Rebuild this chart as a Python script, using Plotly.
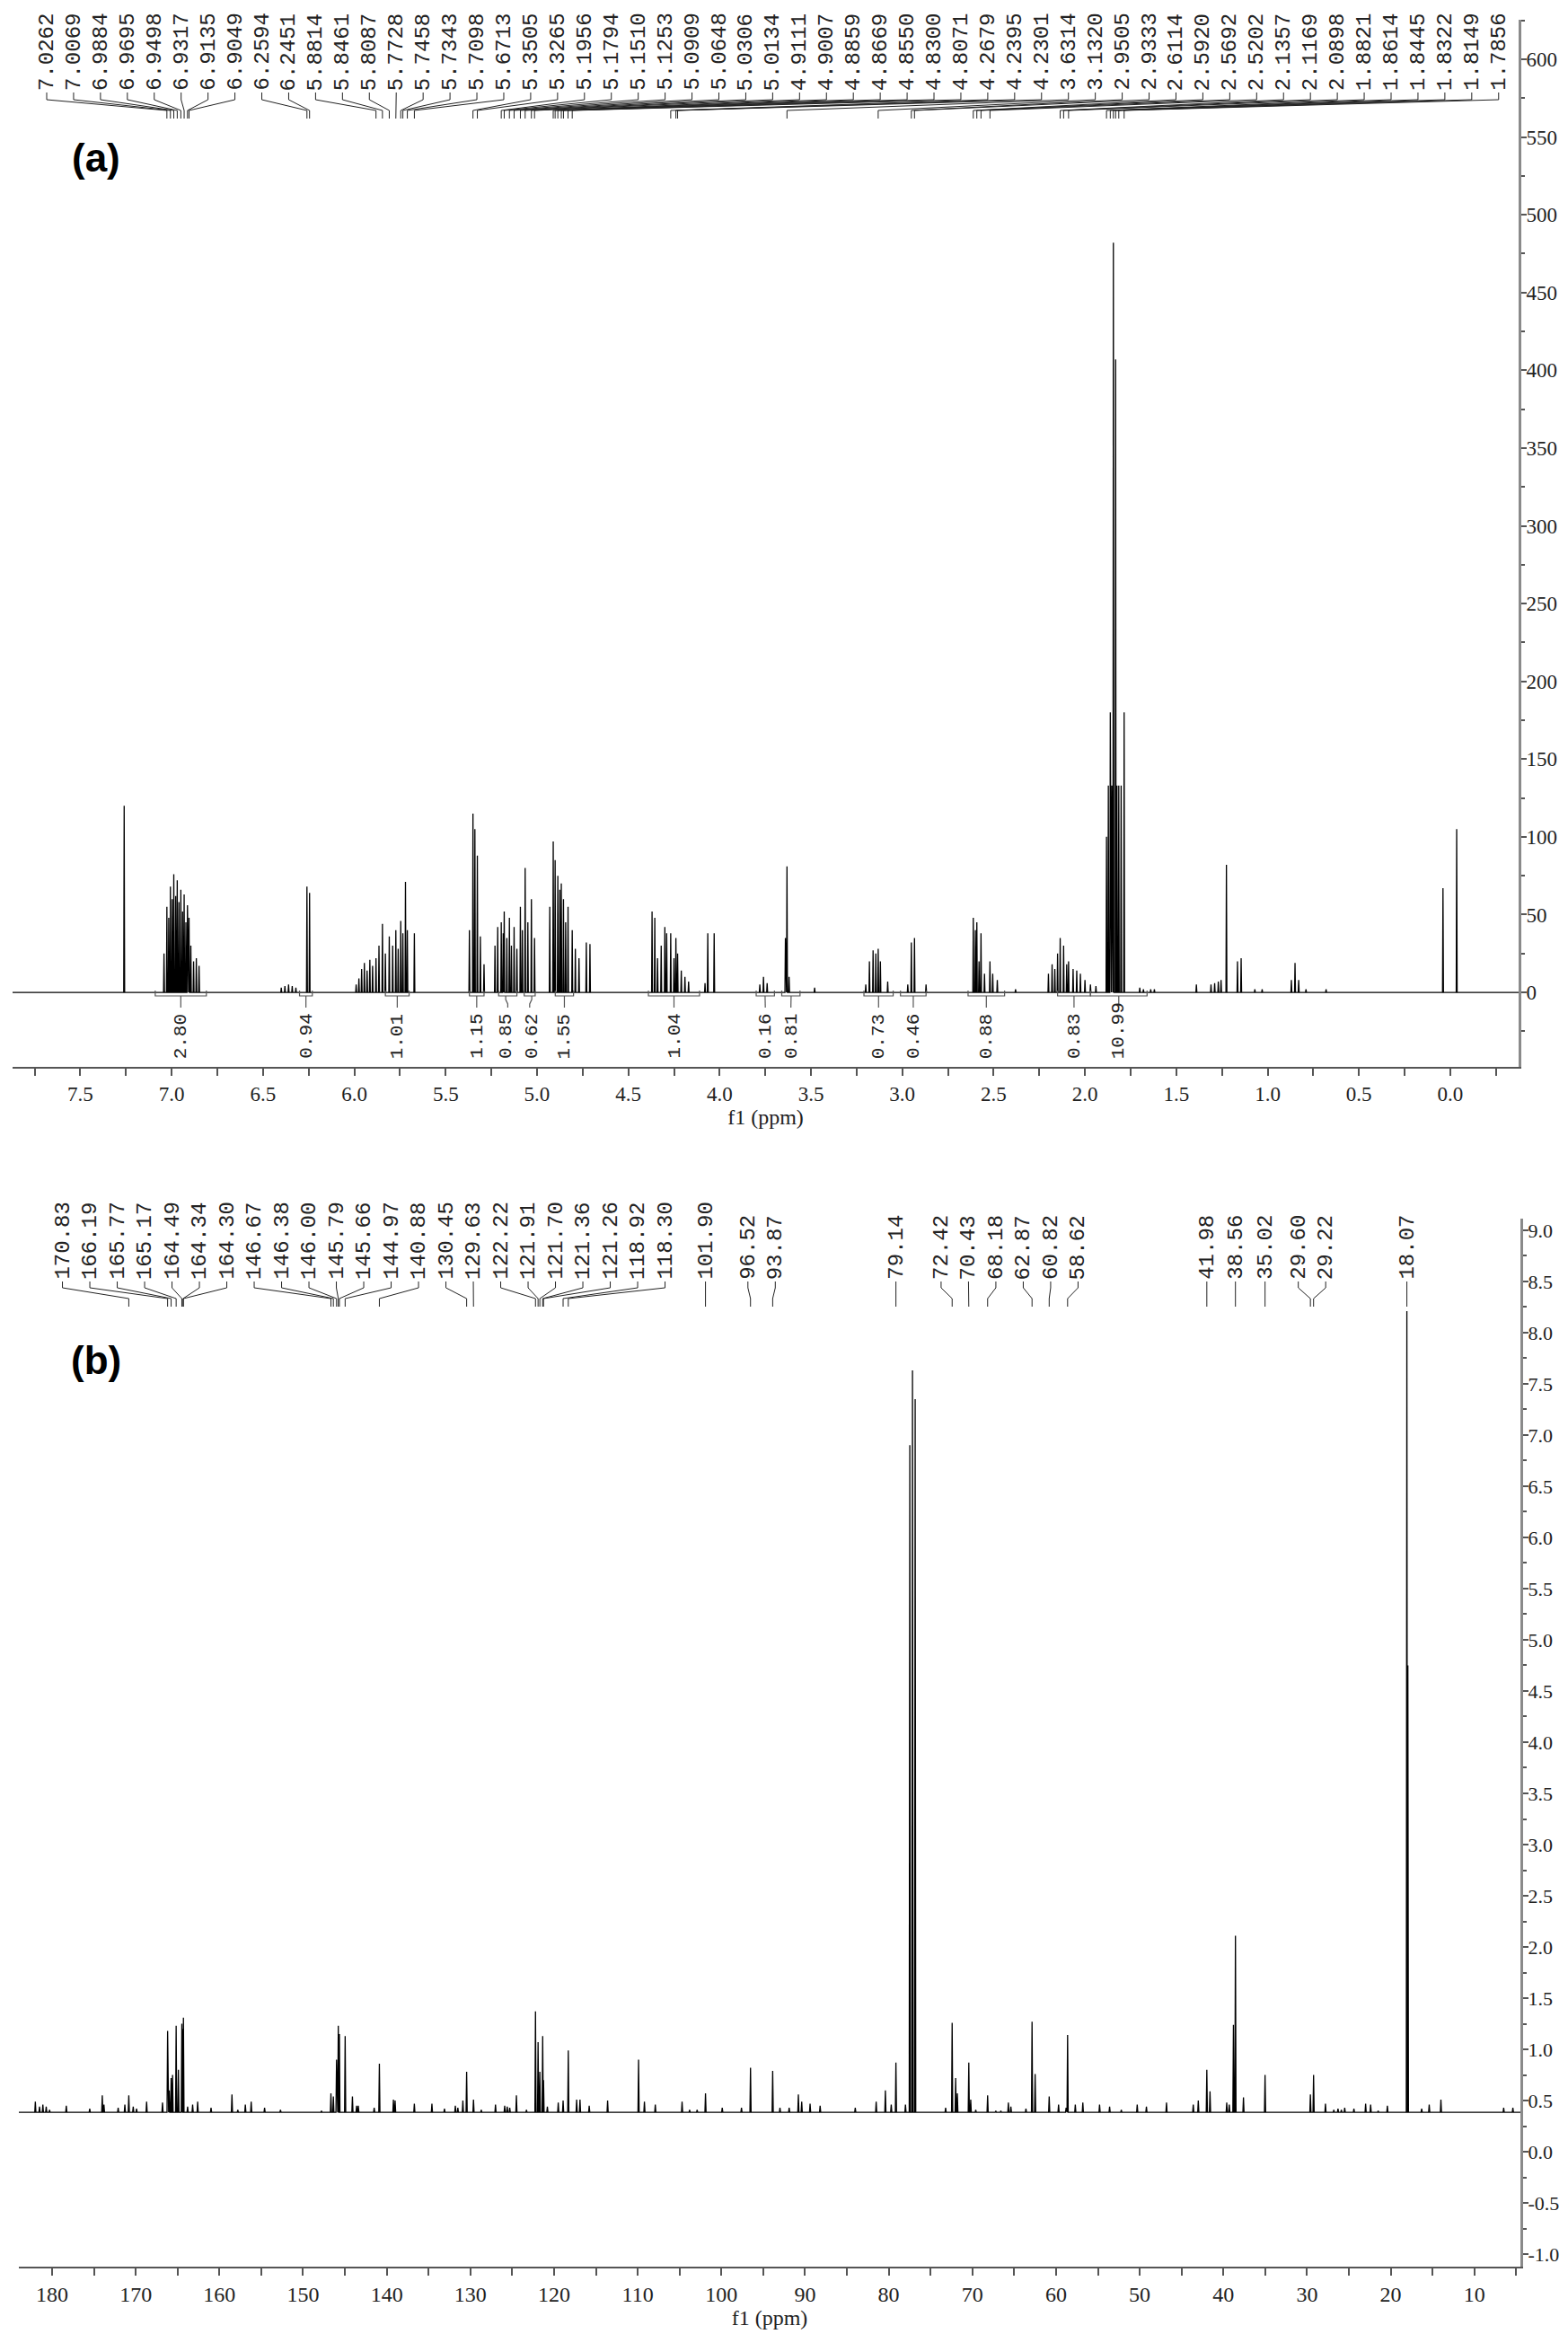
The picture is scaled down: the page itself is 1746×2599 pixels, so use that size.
import numpy as np
import plotly.graph_objects as go

# ---------------- (a) 1H NMR ----------------
h_shift = [7.2600, 7.0420, 7.0262, 7.0160, 7.0069, 6.9970, 6.9884, 6.9780, 6.9695, 6.9600,
           6.9498, 6.9400, 6.9317, 6.9220, 6.9135, 6.9049, 6.8950, 6.8800, 6.8650, 6.8500,
           6.4000, 6.3800, 6.3600, 6.3400, 6.3200, 6.2594, 6.2451,
           5.9900, 5.9750, 5.9600, 5.9450, 5.9300, 5.9150, 5.9000, 5.8814, 5.8650, 5.8461,
           5.8300, 5.8087, 5.7900, 5.7728, 5.7600, 5.7458, 5.7343, 5.7200, 5.7098, 5.6713,
           5.3700, 5.3505, 5.3400, 5.3265, 5.3100, 5.2900,
           5.2300, 5.2150, 5.1956, 5.1850, 5.1794, 5.1650, 5.1510, 5.1400, 5.1253, 5.1100,
           5.0909, 5.0800, 5.0648, 5.0500, 5.0306, 5.0134,
           4.9300, 4.9111, 4.9007, 4.8859, 4.8750, 4.8669, 4.8550, 4.8430, 4.8300, 4.8071,
           4.7900, 4.7700, 4.7300, 4.7100,
           4.3700, 4.3550, 4.3400, 4.3200, 4.3000, 4.2900, 4.2679, 4.2500, 4.2395, 4.2301,
           4.2100, 4.1900, 4.1700, 4.0800, 4.0650, 4.0300,
           3.7800, 3.7600, 3.7400, 3.6400, 3.6314, 3.6200, 3.4800,
           3.2000, 3.1800, 3.1600, 3.1450, 3.1320, 3.1200, 3.0800,
           2.9700, 2.9505, 2.9333, 2.8700,
           2.6114, 2.6000, 2.5920, 2.5800, 2.5692, 2.5500, 2.5202, 2.5050, 2.4800, 2.3800,
           2.2000, 2.1800, 2.1650, 2.1500, 2.1357, 2.1169, 2.1000, 2.0898, 2.0650, 2.0450,
           2.0250, 2.0000, 1.9700, 1.9400,
           1.8821, 1.8720, 1.8614, 1.8530, 1.8445, 1.8322, 1.8250, 1.8149, 1.8020, 1.7856,
           1.7000, 1.6800, 1.6400, 1.6200,
           1.3900, 1.3100, 1.2900, 1.2700, 1.2550, 1.2256, 1.1650, 1.1450, 1.0700, 1.0300,
           0.8700, 0.8500, 0.8300, 0.7900, 0.6800,
           0.0400, -0.0350]
h_height = [120, 25, 55, 48, 68, 60, 76, 62, 72, 58,
            66, 52, 63, 45, 56, 48, 30, 20, 22, 17,
            3, 4, 5, 4, 3, 68, 64,
            5, 9, 15, 19, 14, 21, 17, 22, 30, 44,
            25, 36, 30, 40, 28, 46, 38, 71, 40, 38,
            40, 115, 105, 88, 36, 18,
            30, 42, 45, 38, 52, 35, 48, 30, 42, 28,
            55, 40, 80, 45, 60, 35,
            55, 97, 85, 75, 66, 70, 60, 45, 55, 40,
            28, 22, 32, 31,
            52, 48, 22, 30, 42, 38, 38, 22, 35, 25,
            14, 10, 7, 6, 38, 38,
            5, 10, 6, 35, 81, 10, 3,
            5, 20, 27, 25, 28, 20, 7,
            5, 32, 35, 5,
            48, 40, 45, 20, 38, 12, 20, 12, 8, 2,
            12, 18, 15, 25, 35, 30, 18, 20, 15, 14,
            12, 8, 5, 4,
            100, 133, 180, 133, 482, 407, 133, 133, 133, 180,
            3, 2, 2, 2,
            5, 5, 6, 7, 8, 82, 20, 22, 2, 2,
            8, 19, 8, 2, 2,
            67, 105]
h_peak_labels = [7.0262, 7.0069, 6.9884, 6.9695, 6.9498, 6.9317, 6.9135, 6.9049, 6.2594, 6.2451,
                 5.8814, 5.8461, 5.8087, 5.7728, 5.7458, 5.7343, 5.7098, 5.6713, 5.3505, 5.3265,
                 5.1956, 5.1794, 5.1510, 5.1253, 5.0909, 5.0648, 5.0306, 5.0134, 4.9111, 4.9007,
                 4.8859, 4.8669, 4.8550, 4.8300, 4.8071, 4.2679, 4.2395, 4.2301, 3.6314, 3.1320,
                 2.9505, 2.9333, 2.6114, 2.5920, 2.5692, 2.5202, 2.1357, 2.1169, 2.0898, 1.8821,
                 1.8614, 1.8445, 1.8322, 1.8149, 1.7856]
h_int_from = [7.09, 6.30, 5.83, 5.37, 5.21, 5.07, 4.90, 4.39, 3.80, 3.66, 3.21, 3.01, 2.64, 2.15, 1.97]
h_int_to = [6.81, 6.23, 5.70, 5.29, 5.11, 5.01, 4.80, 4.11, 3.70, 3.56, 3.05, 2.87, 2.44, 1.97, 1.66]
h_int_value = ["2.80", "0.94", "1.01", "1.15", "0.85", "0.62", "1.55", "1.04", "0.16", "0.81",
               "0.73", "0.46", "0.88", "0.83", "10.99"]
h_yticks = [0, 50, 100, 150, 200, 250, 300, 350, 400, 450, 500, 550, 600]

# ---------------- (b) 13C NMR ----------------
c_shift = [182.0, 181.5, 181.1, 180.7, 180.3, 178.3, 175.5, 174.0, 173.8, 172.1,
           171.3, 170.83, 170.3, 169.9, 168.7, 166.8, 166.19, 166.0, 165.77, 165.6,
           165.17, 164.9, 164.49, 164.34, 164.30, 163.8, 163.2, 162.6, 161.0, 158.5,
           157.8, 156.9, 156.2, 154.6, 152.7, 147.8, 146.67, 146.38, 146.00, 145.79,
           145.66, 144.97, 144.1, 143.6, 143.4, 141.5, 140.88, 139.2, 139.0, 136.7,
           134.6, 133.1, 131.8, 131.5, 130.9, 130.45, 129.63, 128.7, 127.0, 125.9,
           125.6, 125.3, 124.5, 123.3, 122.22, 121.91, 121.70, 121.36, 121.26, 120.8,
           119.5, 118.92, 118.30, 117.3, 116.9, 115.8, 113.6, 109.9, 109.2, 107.9,
           104.7, 103.8, 102.9, 101.90, 99.9, 97.6, 96.52, 93.87, 93.0, 91.9,
           90.8, 90.4, 89.4, 88.2, 84.0, 81.5, 80.4, 79.7, 79.14, 78.0,
           77.48, 77.16, 76.84, 73.2, 72.42, 72.0, 71.8, 70.43, 70.2, 69.6,
           68.18, 67.2, 66.6, 65.7, 65.4, 63.6, 62.87, 62.5, 60.82, 59.7,
           58.8, 58.62, 57.7, 56.8, 54.8, 53.6, 52.2, 50.3, 49.2, 46.8,
           43.6, 43.0, 41.98, 41.6, 39.6, 39.3, 38.8, 38.56, 37.6, 35.02,
           29.6, 29.22, 27.8, 26.8, 26.3, 25.9, 25.5, 24.4, 23.0, 22.4,
           21.5, 20.4, 18.07, 17.95, 16.3, 15.4, 14.0, 6.5, 5.4]
c_height = [0.49, 0.44, 0.46, 0.44, 0.41, 0.45, 0.42, 0.55, 0.46, 0.43,
            0.46, 0.55, 0.44, 0.42, 0.49, 0.48, 1.18, 0.60, 0.72, 0.75,
            1.23, 0.80, 1.25, 1.20, 1.31, 0.44, 0.46, 0.49, 0.43, 0.56,
            0.41, 0.46, 0.49, 0.43, 0.41, 0.40, 0.57, 0.54, 0.90, 1.23,
            1.15, 1.13, 0.54, 0.45, 0.45, 0.43, 0.86, 0.51, 0.50, 0.47,
            0.47, 0.42, 0.45, 0.43, 0.50, 0.78, 0.51, 0.41, 0.46, 0.45,
            0.44, 0.43, 0.55, 0.41, 1.37, 1.07, 0.78, 1.13, 0.70, 0.44,
            0.48, 0.50, 0.99, 0.51, 0.51, 0.45, 0.50, 0.90, 0.49, 0.46,
            0.49, 0.41, 0.41, 0.57, 0.43, 0.43, 0.82, 0.79, 0.43, 0.43,
            0.56, 0.49, 0.47, 0.45, 0.43, 0.49, 0.60, 0.46, 0.87, 0.46,
            6.90, 7.63, 7.35, 0.43, 1.26, 0.72, 0.57, 0.87, 0.51, 0.41,
            0.55, 0.40, 0.40, 0.48, 0.44, 0.42, 1.27, 0.76, 0.54, 0.46,
            0.43, 1.14, 0.46, 0.48, 0.46, 0.44, 0.41, 0.46, 0.44, 0.48,
            0.46, 0.50, 0.80, 0.59, 0.48, 0.46, 1.24, 2.11, 0.53, 0.75,
            0.56, 0.75, 0.47, 0.41, 0.42, 0.41, 0.43, 0.42, 0.47, 0.46,
            0.40, 0.45, 8.21, 4.75, 0.42, 0.46, 0.51, 0.43, 0.43]
c_peak_labels = [170.83, 166.19, 165.77, 165.17, 164.49, 164.34, 164.30, 146.67, 146.38, 146.00,
                 145.79, 145.66, 144.97, 140.88, 130.45, 129.63, 122.22, 121.91, 121.70, 121.36,
                 121.26, 118.92, 118.30, 101.90, 96.52, 93.87, 79.14, 72.42, 70.43, 68.18,
                 62.87, 60.82, 58.62, 41.98, 38.56, 35.02, 29.60, 29.22, 18.07]
c_baseline = 0.385
c_yticks = [-1.0, -0.5, 0.0, 0.5, 1.0, 1.5, 2.0, 2.5, 3.0, 3.5, 4.0, 4.5, 5.0, 5.5, 6.0, 6.5,
            7.0, 7.5, 8.0, 8.5, 9.0]

W, H = 1746, 2599

# panel boxes in pixels: left, right, top, bottom
A_BOX = (6, 1683, 14, 1180)
A_XR = (7.871, -0.374)
A_YR = (-47.9, 625.4)
B_BOX = (13, 1685, 1349, 2516)
B_XR = (183.97, 4.5)
B_YR = (-1.122, 9.113)

LABEL_FONT = "Liberation Mono, DejaVu Sans Mono, monospace"
TICK_FONT = "Liberation Serif, Times New Roman, serif"


def to_px(ppm, box, xr):
    return box[0] + (ppm - xr[0]) / (xr[1] - xr[0]) * (box[1] - box[0])


def to_ppm(px, box, xr):
    return xr[0] + (px - box[0]) / (box[1] - box[0]) * (xr[1] - xr[0])


def spread(centers, gap, lo, hi):
    """Spread label positions so they are at least `gap` px apart (centers sorted ascending)."""
    groups = [[c] for c in centers]

    def place(g):
        span = gap * (len(g) - 1)
        start = np.mean(g) - span / 2
        return max(min(start, hi - span), lo)

    merged = True
    while merged:
        merged = False
        starts = [place(g) for g in groups]
        for i in range(len(groups) - 1):
            end_i = starts[i] + gap * (len(groups[i]) - 1)
            if starts[i + 1] - end_i < gap:
                groups[i] = groups[i] + groups[i + 1]
                del groups[i + 1]
                merged = True
                break
    out = []
    for g in groups:
        s = place(g)
        out += [s + gap * k for k in range(len(g))]
    return out


def stick_spectrum(shift, height, base, hw, xr):
    order = np.argsort(shift)[::-1]
    xs, ys = [xr[0]], [base]
    for i in order:
        p, h = shift[i], height[i]
        xs += [p + hw, p, p - hw]
        ys += [base, h, base]
    xs.append(xr[1])
    ys.append(base)
    return xs, ys


def leader_path(peak_x, label_x, yy):
    xs, ys = [], []
    for p, l in zip(peak_x, label_x):
        xs += [l, l, p, p, None]
        ys += [yy[0], yy[1], yy[2], yy[3], None]
    return xs, ys


fig = go.Figure()
annotations = []

# ---- spectra ----
xs, ys = stick_spectrum(h_shift, h_height, 0, 0.0025, A_XR)
fig.add_trace(go.Scatter(x=xs, y=ys, mode="lines", line=dict(color="black", width=1.3),
                         xaxis="x", yaxis="y", hoverinfo="skip"))
xs, ys = stick_spectrum(c_shift, c_height, c_baseline, 0.07, B_XR)
fig.add_trace(go.Scatter(x=xs, y=ys, mode="lines", line=dict(color="black", width=1.3),
                         xaxis="x2", yaxis="y2", hoverinfo="skip"))

# ---- peak labels (a) ----
a_peak_px = [to_px(p, A_BOX, A_XR) for p in h_peak_labels]
a_lab_px = spread(a_peak_px, 29.94, 44, 1661)
a_lab_ppm = [to_ppm(p, A_BOX, A_XR) for p in a_lab_px]
lx, ly = leader_path(h_peak_labels, a_lab_ppm, (95, 103, 115, 124))
fig.add_trace(go.Scatter(x=lx, y=ly, mode="lines", line=dict(color="#222", width=1),
                         xaxis="x", yaxis="y3", hoverinfo="skip"))
for v, x in zip(h_peak_labels, a_lab_ppm):
    annotations.append(dict(x=x, y=94, xref="x", yref="y3", text=f"{v:.4f}", textangle=-90,
                            showarrow=False, xanchor="center", yanchor="bottom", borderpad=0,
                            font=dict(family=LABEL_FONT, size=24, color="#222")))

# ---- integrals (a) ----
bx, by = [], []
int_mid = []
for a, b in zip(h_int_from, h_int_to):
    bx += [a, a, b, b, None]
    by += [1095, 1101, 1101, 1095, None]
    int_mid.append((a + b) / 2)
int_mid_px = [to_px(p, A_BOX, A_XR) for p in int_mid]
int_lab_px = spread(int_mid_px, 29, 10, 1670)
int_lab_ppm = [to_ppm(p, A_BOX, A_XR) for p in int_lab_px]
ix, iy = leader_path(int_mid, int_lab_ppm, (1101, 1105, 1110, 1114))
fig.add_trace(go.Scatter(x=bx + ix, y=by + iy, mode="lines", line=dict(color="#555", width=1.2),
                         xaxis="x", yaxis="y3", hoverinfo="skip"))
for v, x in zip(h_int_value, int_lab_ppm):
    annotations.append(dict(x=x, y=1172, xref="x", yref="y3", text=v, textangle=-90,
                            showarrow=False, xanchor="center", yanchor="bottom", borderpad=0,
                            font=dict(family=LABEL_FONT, size=21, color="#222")))

# ---- peak labels (b) ----
b_peak_px = [to_px(p, B_BOX, B_XR) for p in c_peak_labels]
b_lab_px = spread(b_peak_px, 30.5, 40, 1670)
b_lab_ppm = [to_ppm(p, B_BOX, B_XR) for p in b_lab_px]
lx, ly = leader_path(c_peak_labels, b_lab_ppm, (1419, 1426, 1438, 1447))
fig.add_trace(go.Scatter(x=lx, y=ly, mode="lines", line=dict(color="#222", width=1),
                         xaxis="x2", yaxis="y4", hoverinfo="skip"))
for v, x in zip(c_peak_labels, b_lab_ppm):
    annotations.append(dict(x=x, y=1418, xref="x2", yref="y4", text=f"{v:.2f}", textangle=-90,
                            showarrow=False, xanchor="center", yanchor="bottom", borderpad=0,
                            font=dict(family=LABEL_FONT, size=24, color="#222")))

# ---- panel letters ----
for txt, ypx in [("(a)", 168), ("(b)", 1506)]:
    annotations.append(dict(x=99 / W, y=1 - ypx / H, xref="paper", yref="paper",
                            text=f"<b>{txt}</b>", showarrow=False, xanchor="center", yanchor="middle",
                            font=dict(family="Liberation Sans, Arial", size=44, color="black")))


def xaxis_cfg(box, xr, dtick, minor, fsize, anchor):
    return dict(domain=[box[0] / W, box[1] / W], range=list(xr), anchor=anchor,
                showgrid=False, zeroline=False, showline=True, linecolor="#555", linewidth=2,
                ticks="outside", ticklen=8, tickwidth=1.5, tickcolor="#555", tick0=0, dtick=dtick,
                minor=dict(dtick=minor, ticks="outside", ticklen=8, tickcolor="#555", tickwidth=1.5),
                tickfont=dict(family=TICK_FONT, size=fsize, color="#222"),
                title=dict(text="f1 (ppm)", standoff=2,
                           font=dict(family=TICK_FONT, size=24, color="#222")),
                automargin=False)


def yaxis_cfg(box, yr, ticks, labels, minor, fsize, anchor):
    return dict(domain=[1 - box[3] / H, 1 - box[2] / H], range=list(yr), anchor=anchor, side="right",
                showgrid=False, zeroline=False, showline=True, linecolor="#8a8a8a", linewidth=3,
                ticks="outside", ticklen=6, tickwidth=1.5, tickcolor="#555",
                tickmode="array", tickvals=ticks, ticktext=labels, ticklabelstandoff=-5,
                minor=dict(tick0=0, dtick=minor, ticks="outside", ticklen=4, tickcolor="#555",
                           tickwidth=1.5),
                tickfont=dict(family=TICK_FONT, size=fsize, color="#222"), automargin=False)


fig.update_layout(
    width=W, height=H,
    margin=dict(l=0, r=0, t=0, b=0),
    paper_bgcolor="white", plot_bgcolor="white",
    showlegend=False,
    xaxis=xaxis_cfg(A_BOX, A_XR, 0.5, 0.25, 23, "y") | dict(tickformat=".1f"),
    yaxis=yaxis_cfg(A_BOX, A_YR, h_yticks, [f"{v:d}" for v in h_yticks], 25, 23, "x"),
    yaxis3=dict(overlaying="y", range=[A_BOX[3], A_BOX[2]], visible=False, anchor="x"),
    xaxis2=xaxis_cfg(B_BOX, B_XR, 10, 5, 24, "y2"),
    yaxis2=yaxis_cfg(B_BOX, B_YR, c_yticks, [f"{v:.1f}" for v in c_yticks], 0.25, 22, "x2"),
    yaxis4=dict(overlaying="y2", range=[B_BOX[3], B_BOX[2]], visible=False, anchor="x2"),
    annotations=annotations,
)

fig.write_html("out.html")
